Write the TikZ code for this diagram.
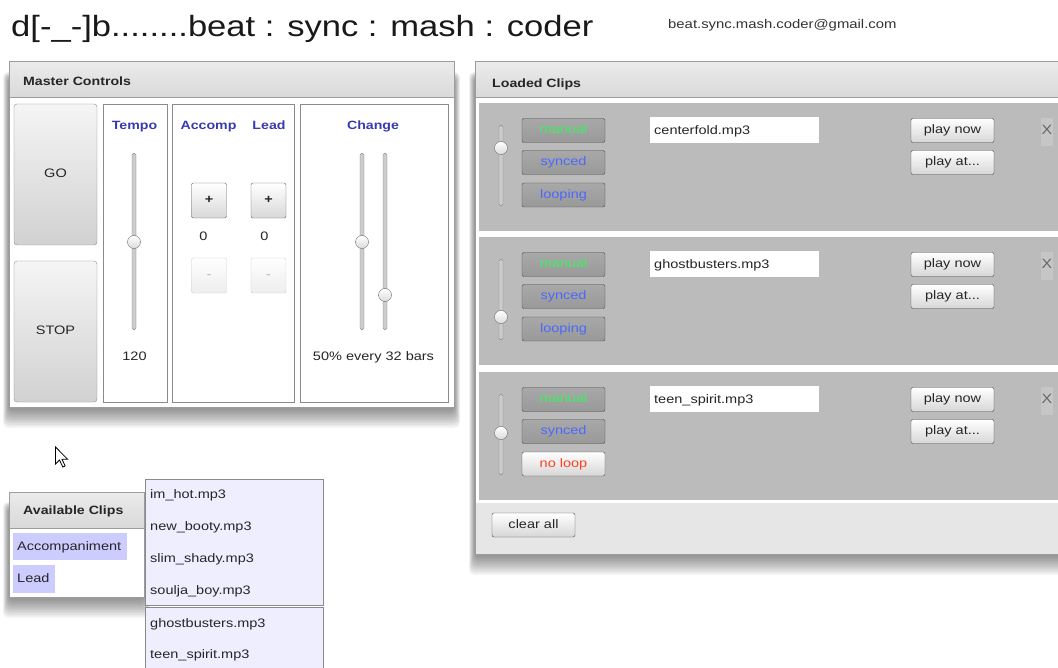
\documentclass[tikz,border=0pt]{standalone}
\usepackage{fontspec}
\setmainfont{Liberation Sans}[FakeStretch=1.18]
\usetikzlibrary{calc}

\definecolor{hdrtop}{HTML}{EBEBEB}
\definecolor{hdrbot}{HTML}{D9D9D9}
\definecolor{pborder}{HTML}{9C9C9C}
\definecolor{boxline}{HTML}{8A8A8A}
\definecolor{lblblue}{HTML}{3A3AB0}
\definecolor{rowgray}{HTML}{BBBBBB}
\definecolor{footgray}{HTML}{E6E6E6}
\definecolor{xgray}{HTML}{C6C6C6}
\definecolor{mangreen}{HTML}{3CF060}
\definecolor{synblue}{HTML}{4A68FF}
\definecolor{loopred}{HTML}{FF4020}
\definecolor{listbg}{HTML}{EEEEFF}
\definecolor{hilite}{HTML}{CCCCFF}
\definecolor{txt}{HTML}{262626}
\definecolor{btnline}{HTML}{4A4A4A}

% soft shadow under a panel: corners x1 y1 x2 y2 (y grows downwards)
\newcommand\panelshadow[4]{%
  \foreach \k in {0,...,11}{%
    \fill[black,opacity=0.038,rounded corners=5]
      ({#1-6+\k*0.5},{#2+10+\k*0.5}) rectangle ({#3+6-\k*0.5},{#4+21-\k*1.6});
  }%
}

% one row of the loaded clips list
% #1 top, #2 name prefix, #3 file name, #4 knob y, #5 loop button style, #6 loop text
\newcommand\cliprow[6]{%
  \fill[rowgray] (479,#1) rectangle (1070,{#1+128});
  \draw[track] (499,{#1+22}) rectangle (503,{#1+103});
  \node[knob] (#2knob) at (501,#4) {};
  \node[rowbtn, text=mangreen] (#2man) at (563.5,{#1+27.5}) {manual};
  \node[rowbtn, text=synblue] (#2syn) at (563.5,{#1+59.5}) {synced};
  \node[#5] (#2loop) at (563.5,{#1+92}) {#6};
  \node[fill=white, minimum width=169, minimum height=26, inner sep=0] (#2field) at (734.5,{#1+27}) {};
  \node[uitext, anchor=base west] (#2file) at (654,{#1+31.3}) {#3};
  \node[playbtn] (#2now) at (952.5,{#1+27.5}) {play now};
  \node[playbtn] (#2at) at (952.5,{#1+59.5}) {play at...};
  \node[fill=xgray, minimum width=12, minimum height=28, inner sep=0] (#2xbox) at (1047,{#1+29}) {};
  \node[uitext, centred, font=\fontsize{13.5}{15}\selectfont, text=black!60] (#2x) at (1047,{#1+28}) {X};
}

\tikzset{
  uitext/.style={font=\fontsize{12.3}{14}\selectfont, text=txt, inner sep=0pt},
  hdrtext/.style={font=\fontsize{12}{14}\selectfont\bfseries, text=txt, inner sep=0pt},
  centred/.style={text height=8.8, text depth=2.2},
  bluelbl/.style={font=\fontsize{12}{14}\selectfont\bfseries, text=lblblue, inner sep=0pt, centred},
  panelborder/.style={draw=pborder, line width=1},
  bigbtn/.style={uitext, centred, draw=boxline, rounded corners=3,
    top color=white!96!black, bottom color=white!82!black,
    minimum width=83, minimum height=141},
  smallbtn/.style={uitext, centred, draw=btnline!90, rounded corners=2,
    top color=white, bottom color=white!85!black, minimum width=35, minimum height=35},
  disbtn/.style={uitext, centred, text=black!30, draw=black!20, rounded corners=2,
    top color=white, bottom color=white!93!black, minimum width=35, minimum height=35},
  rowbtn/.style={uitext, centred, draw=btnline, rounded corners=2,
    top color=white!66!black, middle color=white!74!black, bottom color=white!60!black,
    minimum width=83, minimum height=24},
  playbtn/.style={uitext, centred, draw=btnline, rounded corners=2,
    top color=white, bottom color=white!84!black, minimum width=83, minimum height=24},
  noloopbtn/.style={playbtn, text=loopred},
  loopbtn/.style={rowbtn, text=synblue},
  knob/.style={circle, draw=black!58, top color=white, bottom color=white!86!black,
    minimum size=13, inner sep=0},
  track/.style={draw=black!50, fill=white!80!black, rounded corners=1.8},
  listitem/.style={uitext, anchor=base west},
}

\begin{document}
\begin{tikzpicture}[x=1pt,y=-1pt]
\clip (0,0) rectangle (1058,668);
\fill[white] (0,0) rectangle (1058,668);

% ---------- title line ----------
\node[anchor=base west, font=\fontsize{29.3}{34}\selectfont, text=black!90, inner sep=0] (title) at (11,37)
  {d[-\_-]b........beat : sync : mash : coder};
\node[anchor=base west, font=\fontsize{12.6}{14}\selectfont, text=black!80, inner sep=0] (mail) at (668,29)
  {beat.sync.mash.coder@gmail.com};

% ---------- master controls ----------
\panelshadow{9}{62}{454}{407}
\fill[white] (9,62) rectangle (454,407);
\shade[top color=hdrtop, bottom color=hdrbot] (9,62) rectangle (454,97.5);
\draw[panelborder] (9,97.5) -- (454,97.5);
\draw[panelborder] (9,62) rectangle (454,407);
\node[hdrtext, anchor=base west] (mchead) at (23,86) {Master Controls};

\node[bigbtn] (go) at (55.5,174.5) {GO};
\node[bigbtn] (stop) at (55.5,331.5) {STOP};

\draw[boxline] (103,104) rectangle (167,402);
\draw[boxline] (172,104) rectangle (294,402);
\draw[boxline] (300,104) rectangle (448,402);

% tempo
\node[bluelbl] (tempo) at (134.5,126) {Tempo};
\draw[track] (132,153) rectangle (136,330);
\node[knob] (tempoknob) at (134,242) {};
\node[uitext, centred] (tempoval) at (134.5,357) {120};

% accompaniment / lead counters
\node[bluelbl] (accomp) at (208.5,126) {Accomp};
\node[bluelbl] (lead) at (269,126) {Lead};
\node[smallbtn] (accplus) at (209,200.5) {\bfseries +};
\node[smallbtn] (leadplus) at (268.5,200.5) {\bfseries +};
\node[uitext, centred] (accval) at (203.5,237) {0};
\node[uitext, centred] (leadval) at (264.5,237) {0};
\node[disbtn] (accminus) at (209,275.5) {-};
\node[disbtn] (leadminus) at (268.5,275.5) {-};

% change
\node[bluelbl] (change) at (373,126) {Change};
\draw[track] (360,153) rectangle (364,330);
\draw[track] (383,153) rectangle (387,330);
\node[knob] (chknobA) at (362,242) {};
\node[knob] (chknobB) at (385,295) {};
\node[uitext, centred] (chval) at (373.5,357) {50\% every 32 bars};

% ---------- loaded clips ----------
\panelshadow{475}{62}{1070}{554}
\fill[white] (475,62) rectangle (1070,554);
\shade[top color=hdrtop, bottom color=hdrbot] (475,62) rectangle (1070,97.5);
\draw[panelborder] (475,97.5) -- (1070,97.5);
\node[hdrtext, anchor=base west] (lchead) at (492,88) {Loaded Clips};

\cliprow{103}{ra}{centerfold.mp3}{148}{loopbtn}{looping}
\cliprow{237}{rb}{ghostbusters.mp3}{317}{loopbtn}{looping}
\cliprow{372}{rc}{teen\_spirit.mp3}{433}{noloopbtn}{no loop}

\fill[footgray] (475,503) rectangle (1070,554);
\node[playbtn] (clearall) at (533.5,525) {clear all};
\draw[panelborder] (475,62) rectangle (1075,554);

% ---------- pointer ----------
\draw[black, fill=white, line join=miter, line width=0.8]
  (55.5,447) -- ++(0,17) -- ++(4,-4) -- ++(3.3,7) -- ++(2.4,-1.1)
  -- ++(-3.2,-6.6) -- ++(5.6,0) -- cycle;

% ---------- available clips ----------
\panelshadow{9}{492}{144}{597}
\fill[white] (9,492) rectangle (144,597);
\shade[top color=hdrtop, bottom color=hdrbot] (9,492) rectangle (144,528);
\draw[panelborder] (9,528) -- (144,528);
\draw[panelborder] (9,492) rectangle (144,597);
\node[hdrtext, anchor=base west] (avhead) at (23,514.5) {Available Clips};
\fill[hilite] (13,533) rectangle (127,560);
\fill[hilite] (13,565) rectangle (55,593);
\node[listitem] (acc) at (17,550.5) {Accompaniment};
\node[listitem] (ld) at (17,582.5) {Lead};

\draw[boxline, fill=listbg] (145,479) rectangle (323,605);
\draw[boxline, fill=listbg] (145,607) rectangle (323,690);
\node[listitem] (c1) at (150,498.5) {im\_hot.mp3};
\node[listitem] (c2) at (150,530.5) {new\_booty.mp3};
\node[listitem] (c3) at (150,562.5) {slim\_shady.mp3};
\node[listitem] (c4) at (150,594.5) {soulja\_boy.mp3};
\node[listitem] (c5) at (150,627.5) {ghostbusters.mp3};
\node[listitem] (c6) at (150,658.5) {teen\_spirit.mp3};
\end{tikzpicture}
\end{document}
